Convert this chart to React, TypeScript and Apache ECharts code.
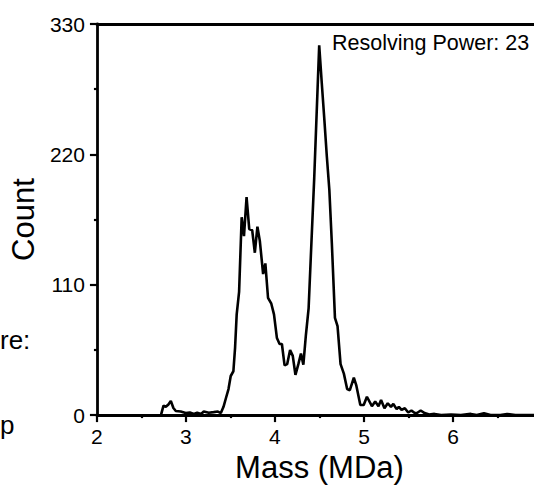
import React, { useEffect, useRef } from "react";
import * as echarts from "echarts";

const massValues: number[] = [
  2.719, 2.748, 2.774, 2.803, 2.83, 2.859, 2.886, 2.941, 2.997, 3.044, 3.089, 3.126, 3.17, 3.2,
  3.256, 3.311, 3.359, 3.392, 3.422, 3.448, 3.478, 3.503, 3.533, 3.552, 3.57, 3.597, 3.626,
  3.652, 3.681, 3.711, 3.744, 3.774, 3.803, 3.83, 3.867, 3.892, 3.922, 3.959, 3.989, 4.022,
  4.052, 4.078, 4.108, 4.137, 4.17, 4.2, 4.23, 4.263, 4.292, 4.319, 4.348, 4.378, 4.403, 4.441,
  4.47, 4.497, 4.526, 4.556, 4.583, 4.611, 4.639, 4.674, 4.703, 4.737, 4.774, 4.811, 4.841,
  4.886, 4.914, 4.959, 4.997, 5.033, 5.089, 5.126, 5.163, 5.192, 5.23, 5.267, 5.303, 5.33,
  5.367, 5.392, 5.422, 5.459, 5.497, 5.533, 5.57, 5.6, 5.637, 5.681, 5.733, 5.792, 5.867,
  5.978, 6.089, 6.2, 6.267, 6.348, 6.422, 6.533, 6.608, 6.7, 6.95,
];
const countValues: number[] = [
  0, 8, 7, 9, 12, 6, 3.5, 3, 1.7, 2.2, 1, 2, 1, 3,
  2, 2.5, 3, 1.7, 7, 14, 22, 33, 37, 57, 85, 104, 167,
  151, 184, 157, 156, 137, 159, 147, 119, 128, 99, 94, 85, 65,
  60, 60, 42, 43, 55, 50, 34, 43, 52, 42.5, 68, 90, 134, 200,
  258, 312, 280, 248, 218, 190, 145, 82, 75, 43, 35, 22, 21,
  31.5, 25, 8.5, 8.5, 15.5, 7.5, 11.5, 7.5, 12.7, 5.8, 10, 7, 9.4,
  5, 7, 4.4, 5.8, 2.2, 3.9, 1.7, 2, 3.9, 1.7, 0.5, 1, 0,
  0.5, 0, 1, 0, 1.5, 0, 0, 1, 0, 0,
];
const xTicks: number[] = [2, 3, 4, 5, 6, 7];
const yTicks: number[] = [0, 110, 220, 330];
const annotation = "Resolving Power: 23";

const FONT = "Arial, Liberation Sans, sans-serif";

export default function App() {
  const ref = useRef<HTMLDivElement>(null);
  useEffect(() => {
    if (!ref.current) return;
    const chart = echarts.init(ref.current, undefined, { renderer: "svg" });
    const data = massValues.map((m, i) => [m, countValues[i]]);
    chart.setOption({
      animation: false,
      backgroundColor: "#ffffff",
      grid: { left: 92, top: 24, right: 28, bottom: 66, containLabel: false },
      xAxis: [
        {
          type: "value",
          min: xTicks[0],
          max: xTicks[xTicks.length - 1],
          interval: 1,
          name: "Mass (MDa)",
          nameLocation: "middle",
          nameGap: 31,
          nameTextStyle: { fontFamily: FONT, fontSize: 31, color: "#000" },
          axisLine: { show: true, onZero: false, lineStyle: { color: "#000", width: 2.8 } },
          axisTick: { show: true, length: 7, lineStyle: { color: "#000", width: 2.2 } },
          minorTick: { show: true, splitNumber: 2, length: 3, lineStyle: { color: "#000", width: 2.2 } },
          axisLabel: { fontFamily: FONT, fontSize: 21, color: "#000", margin: 11, showMaxLabel: false },
          splitLine: { show: false },
        },
        {
          type: "value",
          position: "top",
          min: xTicks[0],
          max: xTicks[xTicks.length - 1],
          axisLine: { show: true, onZero: false, lineStyle: { color: "#000", width: 2.8 } },
          axisTick: { show: false },
          axisLabel: { show: false },
          splitLine: { show: false },
        },
      ],
      yAxis: {
        type: "value",
        min: yTicks[0],
        max: yTicks[yTicks.length - 1],
        interval: 110,
        name: "Count",
        nameLocation: "middle",
        nameGap: 38,
        nameTextStyle: { fontFamily: FONT, fontSize: 31, color: "#000" },
        axisLine: { show: true, lineStyle: { color: "#000", width: 2.8 } },
        axisTick: { show: true, length: 7, lineStyle: { color: "#000", width: 2.2 } },
        minorTick: { show: true, splitNumber: 2, length: 3, lineStyle: { color: "#000", width: 2.2 } },
        axisLabel: { fontFamily: FONT, fontSize: 21, color: "#000", margin: 12 },
        splitLine: { show: false },
      },
      series: [
        {
          type: "line",
          data,
          showSymbol: false,
          smooth: false,
          lineStyle: { color: "#000", width: 2.6 },
          z: 1,
        },
      ],
      graphic: [
        {
          type: "text",
          left: 332,
          top: 32,
          style: { text: annotation, fontFamily: FONT, fontSize: 21.5, fill: "#000" },
        },
        {
          type: "text",
          left: 0,
          top: 327,
          style: { text: "re:", fontFamily: FONT, fontSize: 26, fill: "#000" },
        },
        {
          type: "text",
          left: 0,
          top: 412,
          style: { text: "p", fontFamily: FONT, fontSize: 26, fill: "#000" },
        },
      ],
    });
    return () => chart.dispose();
  }, []);
  return (
    <div
      style={{
        position: "fixed",
        left: 0,
        top: 0,
        width: 534,
        height: 488,
        overflow: "hidden",
        background: "#fff",
      }}
    >
      <div ref={ref} style={{ width: 570, height: 488 }} />
    </div>
  );
}
